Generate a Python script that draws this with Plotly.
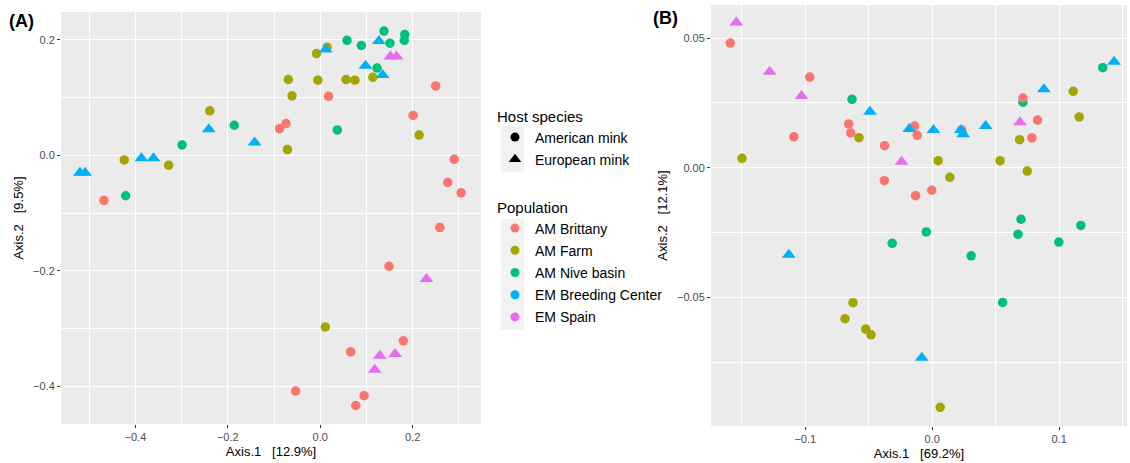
import plotly.graph_objects as go

# ---------------- data (panel A) ----------------
brittany_a_x = [-0.468, 0.250, 0.018, -0.074, -0.088, 0.201, 0.290, 0.276, 0.305, 0.259, 0.149, 0.180, 0.066, -0.053, 0.095, 0.077]
brittany_a_y = [-0.078, 0.120, 0.102, 0.055, 0.046, 0.069, -0.007, -0.047, -0.065, -0.125, -0.192, -0.321, -0.340, -0.408, -0.416, -0.433]
farm_a_x = [-0.424, -0.328, -0.239, 0.015, -0.008, -0.069, -0.005, 0.056, 0.075, 0.114, -0.061, 0.214, -0.071, 0.011]
farm_a_y = [-0.008, -0.017, 0.077, 0.187, 0.176, 0.131, 0.130, 0.131, 0.130, 0.135, 0.103, 0.035, 0.010, -0.297]
nive_a_x = [-0.421, -0.299, -0.186, 0.138, 0.058, 0.089, 0.151, 0.183, 0.182, 0.123, 0.037]
nive_a_y = [-0.070, 0.018, 0.052, 0.215, 0.199, 0.190, 0.194, 0.209, 0.199, 0.151, 0.044]
breeding_a_x = [-0.520, -0.509, -0.387, -0.361, -0.241, -0.142, 0.012, 0.127, 0.098, 0.135]
breeding_a_y = [-0.030, -0.030, -0.005, -0.005, 0.045, 0.022, 0.183, 0.198, 0.155, 0.139]
spain_a_x = [0.152, 0.165, 0.230, 0.129, 0.162, 0.118]
spain_a_y = [0.171, 0.171, -0.214, -0.347, -0.344, -0.371]

# ---------------- data (panel B) ----------------
brittany_b_x = [-0.1591, -0.0965, -0.0658, -0.0642, -0.1090, -0.0375, -0.0377, 0.0715, 0.0830, 0.0786, 0.0233, -0.0139, -0.0118, -0.0003, -0.0131]
brittany_b_y = [0.0481, 0.0350, 0.0169, 0.0134, 0.0119, 0.0085, -0.0050, 0.0269, 0.0184, 0.0115, 0.0146, 0.0161, 0.0125, -0.0087, -0.0108]
farm_b_x = [-0.0577, -0.1499, 0.1111, 0.1158, 0.0689, 0.0535, 0.0749, 0.0047, 0.0139, -0.0624, -0.0687, -0.0524, -0.0482, 0.0063]
farm_b_y = [0.0116, 0.0036, 0.0295, 0.0196, 0.0108, 0.0027, -0.0013, 0.0027, -0.0037, -0.0521, -0.0583, -0.0623, -0.0645, -0.0925]
nive_b_x = [-0.0632, 0.1344, 0.0715, 0.0700, 0.1171, -0.0047, -0.0315, 0.0307, 0.0676, 0.0998, 0.0555]
nive_b_y = [0.0264, 0.0386, 0.0253, -0.0199, -0.0223, -0.0248, -0.0292, -0.0340, -0.0257, -0.0287, -0.0520]
breeding_b_x = [-0.0490, 0.1433, 0.0880, 0.0421, 0.0225, 0.0244, 0.0010, -0.0181, -0.1130, -0.0082]
breeding_b_y = [0.0216, 0.0409, 0.0303, 0.0161, 0.0146, 0.0129, 0.0146, 0.0149, -0.0336, -0.0734]
spain_b_x = [-0.1544, -0.1281, -0.1030, 0.0692, -0.0241]
spain_b_y = [0.0560, 0.0370, 0.0277, 0.0175, 0.0023]

populations = ["AM Brittany", "AM Farm", "AM Nive basin", "EM Breeding Center", "EM Spain"]
colors = ["#F8766D", "#A3A500", "#00BF7D", "#00B0F6", "#E76BF3"]
host_species = ["American mink", "European mink"]

FONT = "Liberation Sans, Arial, sans-serif"

fig = go.Figure()

panel_a = {
    "AM Nive basin": (nive_a_x, nive_a_y),
    "AM Farm": (farm_a_x, farm_a_y),
    "AM Brittany": (brittany_a_x, brittany_a_y),
    "EM Breeding Center": (breeding_a_x, breeding_a_y),
    "EM Spain": (spain_a_x, spain_a_y),
}
panel_b = {
    "AM Nive basin": (nive_b_x, nive_b_y),
    "AM Farm": (farm_b_x, farm_b_y),
    "AM Brittany": (brittany_b_x, brittany_b_y),
    "EM Breeding Center": (breeding_b_x, breeding_b_y),
    "EM Spain": (spain_b_x, spain_b_y),
}

def add_panel(data, xa, ya):
    for pop, (xs, ys) in data.items():
        col = colors[populations.index(pop)]
        tri = pop.startswith("EM")
        fig.add_trace(go.Scatter(
            x=xs, y=ys, mode="markers", xaxis=xa, yaxis=ya, showlegend=False,
            marker=dict(color=col, size=12 if tri else 9.5,
                        symbol="triangle-up" if tri else "circle",
                        line=dict(width=0)),
        ))

add_panel(panel_a, "x", "y")
add_panel(panel_b, "x2", "y2")

# legend entries (each in its own group so tracegroupgap sets item spacing)
for name, sym in zip(host_species, ["circle", "triangle-up"]):
    fig.add_trace(go.Scatter(x=[None], y=[None], mode="markers", name=name,
                             legendgroup="h_" + name,
                             marker=dict(color="black", size=9 if sym == "circle" else 11, symbol=sym),
                             legend="legend"))
for name, col in zip(populations, colors):
    fig.add_trace(go.Scatter(x=[None], y=[None], mode="markers", name=name,
                             legendgroup="p_" + name,
                             marker=dict(color=col, size=9, symbol="circle"),
                             legend="legend2"))

W, H = 1130, 463
ML, MR, MT, MB = 61, 3, 5, 37
PW, PH = W - ML - MR, H - MT - MB

def dx(px):
    return (px - ML) / PW

def dy(py):
    return (H - MB - py) / PH

axis_common = dict(
    showline=False, zeroline=False, showgrid=True, gridcolor="white", gridwidth=1.1,
    ticks="outside", ticklen=3, tickwidth=1, tickcolor="#333333",
    tickfont=dict(family=FONT, size=11, color="#4D4D4D"),
    title_font=dict(family=FONT, size=13, color="black"),
)

# light grey legend-key backgrounds (ggplot legend.key)
key_boxes = [(501, 524, 127, 172), (501, 524, 219, 330)]
shapes = [dict(type="rect", xref="paper", yref="paper", x0=dx(a), x1=dx(b), y0=dy(d), y1=dy(c),
               fillcolor="#F2F2F2", line=dict(width=0), layer="below")
          for a, b, c, d in key_boxes]

fig.update_layout(
    width=W, height=H,
    margin=dict(l=ML, r=MR, t=MT, b=MB),
    paper_bgcolor="white", plot_bgcolor="#EBEBEB",
    font=dict(family=FONT),
    shapes=shapes,
    xaxis=dict(domain=[dx(61), dx(481)], range=[-0.561, 0.348], tick0=0, dtick=0.2,
               tickformat=".1f",
               minor=dict(dtick=0.1, showgrid=True, gridcolor="white", gridwidth=0.5),
               title=dict(text="Axis.1 \u00a0 [12.9%]", standoff=4), anchor="y", **axis_common),
    yaxis=dict(domain=[dy(424), dy(12)], range=[-0.465, 0.248], tick0=0, dtick=0.2,
               tickformat=".1f",
               minor=dict(dtick=0.1, showgrid=True, gridcolor="white", gridwidth=0.5),
               title=dict(text="Axis.2 \u00a0 [9.5%]", standoff=6), anchor="x", **axis_common),
    xaxis2=dict(domain=[dx(711), dx(1127)], range=[-0.1743, 0.1535], tick0=0, dtick=0.1,
                tickformat=".1f",
                minor=dict(dtick=0.05, showgrid=True, gridcolor="white", gridwidth=0.5),
                title=dict(text="Axis.1 \u00a0 [69.2%]", standoff=4), anchor="y2", **axis_common),
    yaxis2=dict(domain=[dy(426), dy(5)], range=[-0.0997, 0.0628], tick0=0, dtick=0.05,
                tickformat=".2f",
                minor=dict(dtick=0.025, showgrid=True, gridcolor="white", gridwidth=0.5),
                title=dict(text="Axis.2 \u00a0 [12.1%]", standoff=6), anchor="x2", **axis_common),
    legend=dict(title=dict(text="Host species", font=dict(family=FONT, size=15, color="black")),
                x=dx(495), y=dy(102), xanchor="left", yanchor="top",
                font=dict(family=FONT, size=14, color="black"), bgcolor="rgba(0,0,0,0)",
                tracegroupgap=1, itemsizing="trace"),
    legend2=dict(title=dict(text="Population", font=dict(family=FONT, size=15, color="black")),
                 x=dx(495), y=dy(193), xanchor="left", yanchor="top",
                 font=dict(family=FONT, size=14, color="black"), bgcolor="rgba(0,0,0,0)",
                 tracegroupgap=1, itemsizing="trace"),
    annotations=[
        dict(text="<b>(A)</b>", x=dx(7), y=dy(21), xref="paper", yref="paper",
             xanchor="left", yanchor="middle", showarrow=False,
             font=dict(family=FONT, size=18, color="black")),
        dict(text="<b>(B)</b>", x=dx(651), y=dy(18), xref="paper", yref="paper",
             xanchor="left", yanchor="middle", showarrow=False,
             font=dict(family=FONT, size=18, color="black")),
    ],
)

fig.write_html("out.html", config={"displayModeBar": False},
               post_script="document.body.style.margin='0px';")
